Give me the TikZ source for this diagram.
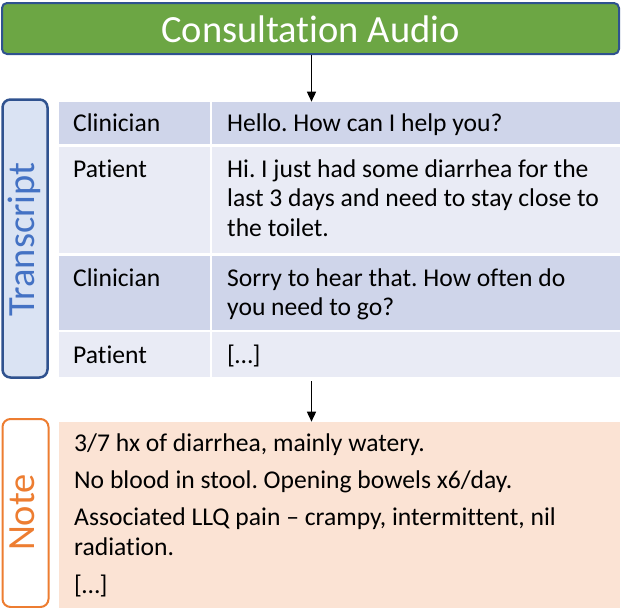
\documentclass[tikz,border=0pt]{standalone}
\usepackage{fontspec}
\setmainfont{Carlito}[Ligatures={TeX,NoCommon}]
\usetikzlibrary{arrows.meta}
\definecolor{outl}{HTML}{2F528F}
\definecolor{audiogreen}{HTML}{6CA644}
\definecolor{tlabelfill}{HTML}{DAE3F3}
\definecolor{tlabeltext}{HTML}{4472C4}
\definecolor{bandA}{HTML}{CFD5EA}
\definecolor{bandB}{HTML}{E9EBF5}
\definecolor{noteorange}{HTML}{ED7D31}
\definecolor{notefill}{HTML}{FBE3D4}
\frenchspacing
\begin{document}
\begin{tikzpicture}[x=1pt,y=-1pt,
  cell/.style={inner sep=0pt, anchor=north west, minimum height=#1},
  cola/.style={minimum width=151pt},
  colb/.style={minimum width=408pt},
  body/.style={inner sep=0pt, anchor=base west, align=left, font=\fontsize{25.6}{29.6}\selectfont},
  biglabel/.style={inner sep=0pt, font=\fontsize{38.5}{42}\selectfont},
  arr/.style={line width=1.5pt, -{Triangle[length=10pt,width=9pt]}}
]
\useasboundingbox (0,0) rectangle (622,608);

% title
\node[draw=outl, fill=audiogreen, line width=2pt, rounded corners=5pt,
      minimum width=617pt, minimum height=51pt, inner sep=0pt] (audio) at (310.5,28.5) {};
\node[biglabel, text=white, anchor=base] (audiotext) at (310.5,42.7) {Consultation Audio};

% transcript label
\node[draw=outl, fill=tlabelfill, line width=2.5pt, rounded corners=8pt,
      minimum width=45pt, minimum height=278pt, inner sep=0pt] (tbox) at (25,238.5) {};
\node[biglabel, text=tlabeltext, rotate=90] (ttext) at (24.5,239.5) {Transcript};

% table cells
\node[cell=42.3pt, cola, fill=bandA] (r1a) at (58.3,101.7) {};
\node[cell=42.3pt, colb, fill=bandA] (r1b) at (212,101.7) {};
\node[cell=106.3pt, cola, fill=bandB] (r2a) at (58.3,146.7) {};
\node[cell=106.3pt, colb, fill=bandB] (r2b) at (212,146.7) {};
\node[cell=74.3pt, cola, fill=bandA] (r3a) at (58.3,255.7) {};
\node[cell=74.3pt, colb, fill=bandA] (r3b) at (212,255.7) {};
\node[cell=44.7pt, cola, fill=bandB] (r4a) at (58.3,332) {};
\node[cell=44.7pt, colb, fill=bandB] (r4b) at (212,332) {};

% (multi-line texts are placed by the baseline of their last line)
\node[body] (s1) at (73,131.7) {Clinician};
\node[body] (u1) at (227,131.7) {Hello. How can I help you?};
\node[body] (s2) at (73,177.3) {Patient};
\node[body] (u2) at (227,236.5) {Hi. I just had some diarrhea for the\\last 3 days and need to stay close to\\the toilet.};
\node[body] (s3) at (73,286) {Clinician};
\node[body] (u3) at (227,315.6) {Sorry to hear that. How often do\\you need to go?};
\node[body] (s4) at (73,363.3) {Patient};
\node[body] (u4) at (227,363.3) {[…]};

% note label
\node[draw=noteorange, fill=white, line width=2pt, rounded corners=8pt,
      minimum width=46pt, minimum height=188pt, inner sep=0pt] (nbox) at (25.5,513) {};
\node[biglabel, text=noteorange, rotate=90] (ntext) at (22.5,512.5) {Note};

% note body
\node[cell=187pt, minimum width=561pt, fill=notefill] (nbody) at (59,421.7) {};
\node[body] (n1) at (74,451.7) {3/7 hx of diarrhea, mainly watery.};
\node[body] (n2) at (74,488.3) {No blood in stool. Opening bowels x6/day.};
\node[body] (n3) at (74,555) {Associated LLQ pain – crampy, intermittent, nil\\radiation.};
\node[body] (n4) at (74,593) {[…]};

% arrows
\coordinate (a2start) at (311.5,381);
\draw[arr] (audio.south -| 311.5,0) -- (r1b.north -| 311.5,0);
\draw[arr] (a2start) -- (nbody.north -| a2start);
\end{tikzpicture}
\end{document}
